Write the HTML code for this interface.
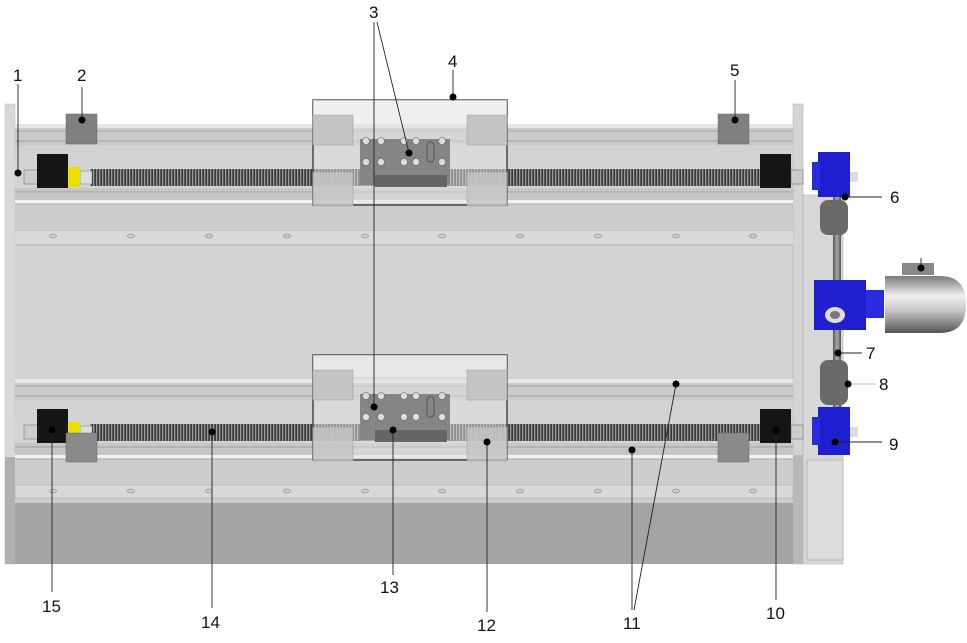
<!DOCTYPE html>
<html><head><meta charset="utf-8"><style>
html,body{margin:0;padding:0;background:#fff;}
svg{display:block;}
text{font-family:"Liberation Sans","DejaVu Sans",sans-serif;font-size:17px;fill:#111;}
</style></head><body>
<svg width="967" height="643" viewBox="0 0 967 643" xmlns="http://www.w3.org/2000/svg">
<defs>
<pattern id="thr" width="3" height="20" patternUnits="userSpaceOnUse">
<rect width="3" height="20" fill="#3a3a3a"/><rect width="1.3" height="20" fill="#9a9a9a"/>
</pattern>
<linearGradient id="mot" x1="0" y1="0" x2="0" y2="1">
<stop offset="0" stop-color="#7a7a7a"/><stop offset="0.35" stop-color="#f0f0f0"/><stop offset="0.6" stop-color="#c8c8c8"/><stop offset="1" stop-color="#555"/>
</linearGradient>
<linearGradient id="shaft" x1="0" y1="0" x2="1" y2="0">
<stop offset="0" stop-color="#555"/><stop offset="0.5" stop-color="#aaa"/><stop offset="1" stop-color="#555"/>
</linearGradient>
<g id="rail">
<rect x="15" y="124" width="778" height="4" fill="#e6e6e6"/>
<rect x="15" y="128" width="778" height="17" fill="#cacaca"/>
<line x1="15" y1="131" x2="793" y2="131" stroke="#a8a8a8"/>
<line x1="15" y1="141" x2="793" y2="141" stroke="#a0a0a0"/>
<rect x="15" y="145" width="778" height="20" fill="#d2d2d2"/>
<rect x="15" y="188" width="778" height="12" fill="#c6c6c6"/>
<line x1="15" y1="192" x2="793" y2="192" stroke="#a0a0a0"/>
<rect x="15" y="200" width="778" height="4" fill="#f2f2f2"/>
<rect x="15" y="204" width="778" height="26" fill="#cdcdcd"/>
<line x1="15" y1="204" x2="793" y2="204" stroke="#aaa"/>
<rect x="90" y="169" width="670" height="17" fill="url(#thr)"/>
<rect x="80" y="171" width="12" height="13" fill="#ddd" stroke="#777" stroke-width="0.5"/>
<rect x="66" y="167" width="14" height="20" fill="#e8e000"/>
<rect x="24" y="170" width="14" height="14" fill="#ccc" stroke="#666" stroke-width="0.5"/>
<rect x="37" y="154" width="31" height="34" fill="#151515"/>
<rect x="760" y="154" width="31" height="34" fill="#151515"/>
<rect x="791" y="170" width="12" height="14" fill="#ccc" stroke="#666" stroke-width="0.5"/>
<rect x="313" y="100" width="194" height="105" fill="#e2e2e2" fill-opacity="0.5" stroke="#333" stroke-width="1.3"/>
<rect x="313" y="100" width="194" height="22" fill="#eeeeee" fill-opacity="0.7"/>
<rect x="313" y="115" width="40" height="30" fill="#c4c4c4" stroke="#999" stroke-width="0.5"/>
<rect x="467" y="115" width="40" height="30" fill="#c4c4c4" stroke="#999" stroke-width="0.5"/>
<rect x="313" y="172" width="40" height="34" fill="#c4c4c4" fill-opacity="0.85" stroke="#999" stroke-width="0.5"/>
<rect x="467" y="172" width="40" height="34" fill="#c4c4c4" fill-opacity="0.85" stroke="#999" stroke-width="0.5"/>
<rect x="360" y="139" width="90" height="46" fill="#858585"/>
<rect x="375" y="175" width="72" height="12" fill="#666"/>
<g fill="#ddd" stroke="#666" stroke-width="0.6">
<circle cx="366" cy="141" r="3.5"/><circle cx="381" cy="141" r="3.5"/><circle cx="404" cy="141" r="3.5"/><circle cx="416" cy="141" r="3.5"/><circle cx="442" cy="141" r="3.5"/>
<circle cx="366" cy="162" r="3.5"/><circle cx="381" cy="162" r="3.5"/><circle cx="404" cy="162" r="3.5"/><circle cx="416" cy="162" r="3.5"/><circle cx="442" cy="162" r="3.5"/>
</g>
<rect x="427" y="142" width="7" height="20" rx="3" fill="none" stroke="#555"/>
</g>
</defs>

<rect x="5" y="104" width="10" height="460" fill="#d9d9d9" stroke="#bbb" stroke-width="0.5"/>
<rect x="5" y="457" width="10" height="107" fill="#b0b0b0"/>
<rect x="15" y="124" width="778" height="440" fill="#d4d4d4"/>
<rect x="793" y="104" width="10" height="460" fill="#d4d4d4" stroke="#aaa" stroke-width="0.5"/>
<rect x="803" y="195" width="40" height="369" fill="#d7d7d7" stroke="#aaa" stroke-width="0.5"/>
<rect x="793" y="455" width="10" height="109" fill="#b8b8b8"/>
<rect x="807" y="460" width="36" height="100" fill="#dcdcdc" stroke="#999" stroke-width="0.5"/>
<rect x="15" y="230" width="778" height="15" fill="#dadada"/>
<line x1="15" y1="230" x2="793" y2="230" stroke="#b0b0b0"/>
<line x1="15" y1="245" x2="793" y2="245" stroke="#b0b0b0"/>
<g fill="#ccc" stroke="#888" stroke-width="0.6">
<ellipse cx="53" cy="236" rx="3.5" ry="2"/><ellipse cx="131" cy="236" rx="3.5" ry="2"/><ellipse cx="209" cy="236" rx="3.5" ry="2"/><ellipse cx="287" cy="236" rx="3.5" ry="2"/><ellipse cx="365" cy="236" rx="3.5" ry="2"/><ellipse cx="442" cy="236" rx="3.5" ry="2"/><ellipse cx="520" cy="236" rx="3.5" ry="2"/><ellipse cx="598" cy="236" rx="3.5" ry="2"/><ellipse cx="676" cy="236" rx="3.5" ry="2"/><ellipse cx="753" cy="236" rx="3.5" ry="2"/>
</g>
<use href="#rail"/>
<use href="#rail" transform="translate(0,255)"/>
<rect x="15" y="465" width="778" height="38" fill="#cdcdcd"/>
<rect x="15" y="485" width="778" height="13" fill="#d8d8d8" stroke="#b0b0b0" stroke-width="0.6"/>
<g fill="#ccc" stroke="#888" stroke-width="0.6">
<ellipse cx="53" cy="491" rx="3.5" ry="2"/><ellipse cx="131" cy="491" rx="3.5" ry="2"/><ellipse cx="209" cy="491" rx="3.5" ry="2"/><ellipse cx="287" cy="491" rx="3.5" ry="2"/><ellipse cx="365" cy="491" rx="3.5" ry="2"/><ellipse cx="442" cy="491" rx="3.5" ry="2"/><ellipse cx="520" cy="491" rx="3.5" ry="2"/><ellipse cx="598" cy="491" rx="3.5" ry="2"/><ellipse cx="676" cy="491" rx="3.5" ry="2"/><ellipse cx="753" cy="491" rx="3.5" ry="2"/>
</g>
<rect x="15" y="503" width="778" height="61" fill="#a4a4a4"/>
<rect x="66" y="114" width="31" height="30" fill="#808080" stroke="#666" stroke-width="0.5"/>
<rect x="718" y="114" width="31" height="30" fill="#808080" stroke="#666" stroke-width="0.5"/>
<rect x="66" y="433" width="31" height="29" fill="#8a8a8a" stroke="#666" stroke-width="0.5"/>
<rect x="718" y="433" width="31" height="29" fill="#8a8a8a" stroke="#666" stroke-width="0.5"/>
<rect x="833" y="195" width="8" height="215" fill="url(#shaft)"/>
<rect x="820" y="200" width="28" height="35" rx="8" fill="#6a6a6a"/>
<rect x="820" y="360" width="28" height="45" rx="8" fill="#6a6a6a"/>
<rect x="818" y="152" width="32" height="45" fill="#1f1fd0"/>
<rect x="812" y="162" width="8" height="28" fill="#2a2ae0"/>
<rect x="850" y="172" width="8" height="10" fill="#ddd"/>
<rect x="818" y="407" width="32" height="48" fill="#1f1fd0"/>
<rect x="812" y="417" width="8" height="28" fill="#2a2ae0"/>
<rect x="850" y="427" width="8" height="10" fill="#ddd"/>
<rect x="814" y="280" width="52" height="50" fill="#1f1fd0"/>
<ellipse cx="835" cy="315" rx="10" ry="8" fill="#ddd"/>
<ellipse cx="835" cy="315" rx="5" ry="4" fill="#777"/>
<rect x="866" y="290" width="18" height="28" fill="#2a2ae0"/>
<rect x="902" y="263" width="32" height="12" fill="#888"/>
<path d="M885 276 H940 Q966 276 966 304 Q966 333 940 333 H885 Z" fill="url(#mot)"/>
<g stroke="#222" stroke-width="0.9" fill="none">
<line x1="18" y1="84" x2="18" y2="173"/>
<line x1="82" y1="87" x2="82" y2="120"/>
<line x1="374" y1="22" x2="374" y2="407"/>
<line x1="377" y1="22" x2="409" y2="153"/>
<line x1="453" y1="70" x2="453" y2="97"/>
<line x1="735" y1="80" x2="735" y2="120"/>
<line x1="845" y1="197" x2="882" y2="197"/>
<line x1="838" y1="353" x2="862" y2="353"/>
<line x1="848" y1="384" x2="876" y2="384" stroke="#bbb"/>
<line x1="835" y1="442" x2="882" y2="442"/>
<line x1="776" y1="430" x2="776" y2="600"/>
<line x1="676" y1="384" x2="634" y2="610"/>
<line x1="632" y1="450" x2="632" y2="610"/>
<line x1="487" y1="442" x2="487" y2="612"/>
<line x1="393" y1="430" x2="393" y2="575"/>
<line x1="212" y1="432" x2="212" y2="608"/>
<line x1="52" y1="430" x2="52" y2="592"/>
<line x1="921" y1="258" x2="921" y2="268"/>
</g>
<g fill="#000">
<circle cx="18" cy="173" r="3.5"/><circle cx="82" cy="120" r="3.5"/><circle cx="409" cy="153" r="3.5"/><circle cx="374" cy="407" r="3.5"/>
<circle cx="453" cy="97" r="3.5"/><circle cx="735" cy="120" r="3.5"/><circle cx="845" cy="197" r="3.5"/><circle cx="838" cy="353" r="3.5"/>
<circle cx="848" cy="384" r="3.5"/><circle cx="835" cy="442" r="3.5"/><circle cx="776" cy="430" r="3.5"/><circle cx="676" cy="384" r="3.5"/>
<circle cx="632" cy="450" r="3.5"/><circle cx="487" cy="442" r="3.5"/><circle cx="393" cy="430" r="3.5"/><circle cx="212" cy="432" r="3.5"/>
<circle cx="52" cy="430" r="3.5"/><circle cx="921" cy="268" r="3.5"/>
</g>
<text x="13" y="81">1</text><text x="77" y="81">2</text><text x="369" y="18">3</text><text x="448" y="67">4</text>
<text x="730" y="76">5</text><text x="890" y="203">6</text><text x="866" y="359">7</text><text x="879" y="390">8</text>
<text x="889" y="450">9</text><text x="766" y="619">10</text><text x="623" y="629">11</text><text x="477" y="631">12</text>
<text x="380" y="593">13</text><text x="201" y="628">14</text><text x="42" y="612">15</text>
</svg>
</body></html>
